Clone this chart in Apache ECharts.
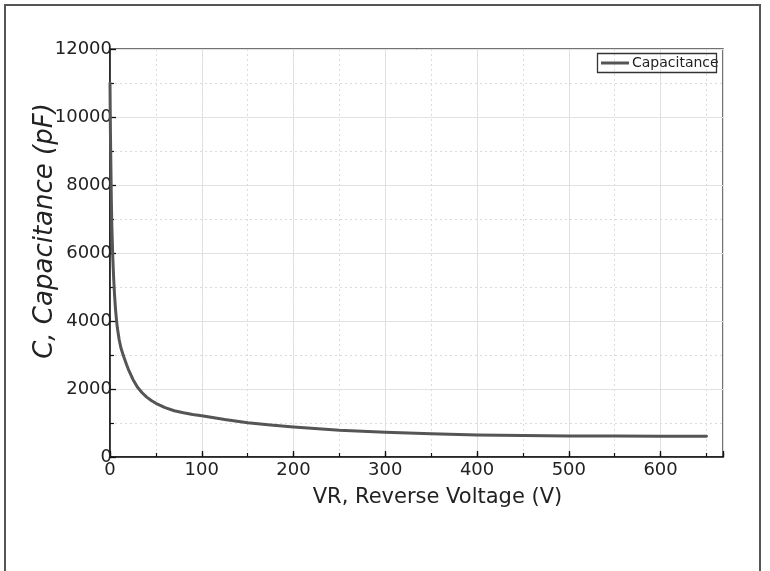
<!DOCTYPE html>
<html>
<head>
<meta charset="utf-8">
<script src="https://cdn.jsdelivr.net/npm/echarts@6/dist/echarts.min.js"></script>
<style>html,body{margin:0;padding:0;background:#fff}#c{width:770px;height:571px}</style>
</head>
<body>
<div id="c"></div>
<script>
var seriesName = 'Capacitance';
var xTitle = 'VR, Reverse Voltage (V)';
var yTitle = 'C, Capacitance (pF)';
var voltage = [0, 0.25, 0.5, 1, 1.5, 2, 3, 4, 5, 6, 7, 8, 10, 12, 15, 18, 20, 25, 30, 35, 40, 45, 50, 60, 70, 80, 90, 100, 125, 150, 175, 200, 250, 300, 350, 400, 450, 500, 550, 600, 650];
var capacitance = [11000, 10200, 9500, 8500, 7500, 6800, 5900, 5250, 4750, 4350, 4050, 3800, 3450, 3200, 2950, 2720, 2580, 2280, 2050, 1890, 1760, 1660, 1580, 1450, 1360, 1300, 1250, 1215, 1100, 1010, 940, 884, 790, 728, 685, 650, 630, 619, 614, 612, 610];
var xTicks = [0, 100, 200, 300, 400, 500, 600];
var yTicks = [0, 2000, 4000, 6000, 8000, 10000, 12000];

var data = voltage.map(function (v, i) { return [v, capacitance[i]]; });
var FONT = 'DejaVu Sans';
var chart = echarts.init(document.getElementById('c'), null, {renderer: 'canvas'});
var xMax = 668;
chart.setOption({
  animation: false,
  backgroundColor: '#fff',
  textStyle: {fontFamily: FONT},
  grid: {left: 110, right: 47, top: 49, bottom: 114, show: true, borderColor: '#444', borderWidth: 1.5, backgroundColor: 'transparent'},
  legend: {
    data: [seriesName], left: 599, top: 54, itemWidth: 28, itemHeight: 3, itemGap: 4, padding: [2, 2],
    icon: 'rect', textStyle: {fontFamily: FONT, fontSize: 14, color: '#222', padding: [0, 0, 0, -2]}
  },
  graphic: [
    {type: 'rect', shape: {x: 597.5, y: 53.5, width: 119, height: 19}, style: {fill: 'none', stroke: '#333', lineWidth: 1.3}, z: 100},
    {type: 'rect', shape: {x: 5, y: 5, width: 755, height: 620}, style: {fill: 'none', stroke: '#555', lineWidth: 2}, z: 100}
  ],
  xAxis: [{
    type: 'value', min: 0, max: xMax, interval: 100,
    name: xTitle, nameLocation: 'middle', nameGap: 30, nameMoveOverlap: false,
    nameTextStyle: {fontFamily: FONT, fontSize: 21, color: '#222', padding: [0, 0, 0, 42]},
    axisLine: {show: true, onZero: false, lineStyle: {color: '#111', width: 1.5}},
    axisTick: {show: true, inside: true, length: 6, lineStyle: {color: '#111', width: 1.3}},
    axisLabel: {fontFamily: FONT, fontSize: 18, color: '#222', margin: 4,
      formatter: function (v) { return xTicks.indexOf(v) >= 0 ? String(v) : ''; }},
    splitLine: {show: true, lineStyle: {color: '#e2e2e2', width: 1}}
  }, {
    type: 'value', min: 0, max: xMax, interval: 50, position: 'bottom',
    axisLine: {show: false},
    axisTick: {show: true, inside: true, length: 4, lineStyle: {color: '#111', width: 1.2}},
    axisLabel: {show: false},
    splitLine: {show: true, lineStyle: {color: '#dcdcdc', width: 1, type: [2, 3]}}
  }],
  yAxis: {
    type: 'value', min: 0, max: 12000, interval: 2000,
    name: yTitle, nameLocation: 'middle', nameGap: 52, nameRotate: 90, nameMoveOverlap: false,
    nameTextStyle: {fontFamily: FONT, fontSize: 26, fontStyle: 'italic', color: '#222', padding: [0, 0, 0, 44]},
    axisLine: {show: true, onZero: false, lineStyle: {color: '#111', width: 1.5}},
    axisTick: {show: true, inside: true, length: 6, lineStyle: {color: '#111', width: 1.3}},
    minorTick: {show: true, splitNumber: 2, length: 4, lineStyle: {color: '#111', width: 1.2}},
    axisLabel: {fontFamily: FONT, fontSize: 18, color: '#222', margin: -2,
      formatter: function (v) { return yTicks.indexOf(v) >= 0 ? String(v) : ''; }},
    splitLine: {show: true, lineStyle: {color: '#e2e2e2', width: 1}},
    minorSplitLine: {show: true, lineStyle: {color: '#dcdcdc', width: 1, type: [2, 3]}}
  },
  series: [{
    name: seriesName, type: 'line', xAxisIndex: 0, data: data, showSymbol: false, symbol: 'none',
    smooth: false, lineStyle: {color: '#555', width: 3, join: 'round', cap: 'round'}, itemStyle: {color: '#555'}, z: 10
  }]
});
</script>
</body>
</html>
